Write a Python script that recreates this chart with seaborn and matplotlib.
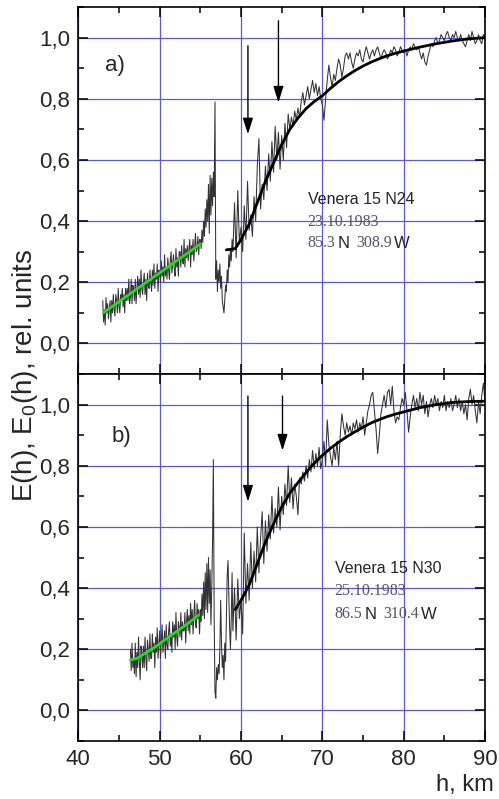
import numpy as np
import pandas as pd
import seaborn as sns
import matplotlib.pyplot as plt
from matplotlib.ticker import MultipleLocator, FuncFormatter

# ---- data ----
# panel a) Venera 15 N24, measured profile in three pieces (start, step, values)
a_lo = [0.14, 0.07, 0.11, 0.06, 0.15, 0.10, 0.13, 0.08, 0.11, 0.14,
        0.07, 0.14, 0.10, 0.16, 0.11, 0.09, 0.16, 0.14, 0.10, 0.18,
        0.12, 0.10, 0.16, 0.14, 0.18, 0.12, 0.16, 0.10, 0.18, 0.14,
        0.18, 0.14, 0.21, 0.13, 0.15, 0.21, 0.13, 0.19, 0.18, 0.14,
        0.21, 0.13, 0.18, 0.22, 0.16, 0.21, 0.15, 0.24, 0.18, 0.16,
        0.20, 0.23, 0.16, 0.21, 0.14, 0.23, 0.19, 0.18, 0.24, 0.20,
        0.17, 0.24, 0.19, 0.26, 0.18, 0.23, 0.21, 0.26, 0.17, 0.24,
        0.23, 0.20, 0.27, 0.22, 0.25, 0.20, 0.29, 0.22, 0.25, 0.21,
        0.28, 0.24, 0.21, 0.27, 0.30, 0.23, 0.26, 0.29, 0.24, 0.22,
        0.31, 0.25, 0.28, 0.22, 0.30, 0.30, 0.25, 0.32, 0.27, 0.26,
        0.34, 0.25, 0.31, 0.28, 0.32, 0.27, 0.31, 0.34, 0.25, 0.32,
        0.29, 0.34, 0.27, 0.32, 0.36, 0.30, 0.31, 0.35, 0.29, 0.34]
a_mid = [0.34, 0.31, 0.37, 0.33, 0.40, 0.35, 0.44, 0.38, 0.47, 0.40,
         0.52, 0.36, 0.55, 0.42, 0.54, 0.45, 0.56, 0.48, 0.79, 0.21,
         0.27, 0.17, 0.24, 0.20, 0.26, 0.18, 0.22, 0.14, 0.12, 0.10,
         0.14, 0.19, 0.17, 0.24, 0.20, 0.29, 0.25, 0.31, 0.27, 0.34]
a_hi = [0.30, 0.46, 0.28, 0.50, 0.33, 0.38, 0.30, 0.45, 0.34, 0.53,
        0.37, 0.42, 0.35, 0.48, 0.40, 0.58, 0.67, 0.44, 0.52, 0.47,
        0.58, 0.50, 0.62, 0.53, 0.66, 0.56, 0.71, 0.60, 0.69, 0.57,
        0.68, 0.60, 0.72, 0.64, 0.75, 0.70, 0.74, 0.71, 0.76, 0.73,
        0.77, 0.74, 0.79, 0.82, 0.78, 0.81, 0.84, 0.80, 0.83, 0.86,
        0.82, 0.85, 0.81, 0.84, 0.80,
        0.78, 0.73, 0.80, 0.86, 0.91, 0.87, 0.84, 0.88, 0.86, 0.90,
        0.93, 0.91, 0.87, 0.90, 0.94, 0.95, 0.93, 0.95, 0.92, 0.90,
        0.93, 0.95, 0.94, 0.96, 0.93, 0.92, 0.95, 0.97, 0.95, 0.93,
        0.95, 0.96, 0.94, 0.96, 0.97, 0.95, 0.93, 0.95, 0.96, 0.95,
        0.93, 0.94, 0.96, 0.95, 0.97, 0.96, 0.94, 0.95, 0.97, 0.96,
        0.95, 0.96, 0.94, 0.96, 0.97, 0.96, 0.98, 0.97, 0.96, 0.97,
        0.95, 0.93, 0.95, 0.92, 0.91, 0.94, 0.96, 0.98, 0.97, 0.99,
        1.00, 0.98, 0.99, 1.01, 1.00, 0.99, 1.01, 1.02, 1.00, 0.99,
        1.01, 1.00, 1.02, 1.00, 0.99, 1.01, 0.99, 0.98, 0.97, 0.99,
        1.01, 0.99, 1.02, 1.00, 0.98, 0.99, 1.01, 0.99, 0.98, 1.01,
        1.00]
a_pieces = [(43.0, 0.1, a_lo), (55.0, 0.1, a_mid), (59.0, 0.2, a_hi)]

# panel b) Venera 15 N30
b_lo = [0.20, 0.13, 0.22, 0.14, 0.17, 0.12,
        0.22, 0.11, 0.19, 0.14, 0.24, 0.16, 0.10, 0.21, 0.19, 0.14,
        0.21, 0.14, 0.24, 0.17, 0.13, 0.23, 0.20, 0.16, 0.25, 0.17,
        0.17, 0.25, 0.19, 0.22, 0.14, 0.24, 0.19, 0.27, 0.17, 0.22,
        0.26, 0.17, 0.23, 0.28, 0.19, 0.22, 0.26, 0.17, 0.28, 0.21,
        0.20, 0.26, 0.29, 0.21, 0.25, 0.19, 0.29, 0.24, 0.28, 0.20,
        0.32, 0.24, 0.21, 0.29, 0.27, 0.24, 0.32, 0.23, 0.29, 0.26,
        0.26, 0.32, 0.22, 0.29, 0.33, 0.26, 0.31, 0.25, 0.35, 0.28,
        0.33, 0.25, 0.31, 0.36, 0.28, 0.27, 0.35, 0.30, 0.33, 0.25]
b_mid = [0.33, 0.29, 0.38, 0.31, 0.42, 0.30, 0.45, 0.33, 0.48, 0.32,
         0.50, 0.35, 0.46, 0.28, 0.40, 0.55, 0.82, 0.30, 0.06, 0.04,
         0.14, 0.10, 0.15, 0.12, 0.20, 0.36, 0.22, 0.14, 0.18, 0.10,
         0.22, 0.16, 0.30, 0.44, 0.49, 0.38, 0.27, 0.20, 0.30, 0.45,
         0.26]
b_hi = [0.40, 0.23, 0.43, 0.30, 0.36, 0.25, 0.58, 0.35, 0.48, 0.36,
        0.55, 0.40, 0.52, 0.42, 0.60, 0.45, 0.56, 0.65, 0.48, 0.62,
        0.52, 0.64, 0.56, 0.70, 0.58, 0.66, 0.60, 0.73, 0.59, 0.70,
        0.64, 0.74, 0.67, 0.80, 0.68, 0.76, 0.66, 0.74, 0.70, 0.64,
        0.76, 0.74, 0.78, 0.75, 0.80, 0.76, 0.82, 0.78, 0.85, 0.79,
        0.84, 0.80, 0.86, 0.79, 0.82, 0.88, 0.80, 0.95, 0.87, 0.83,
        0.80, 0.86, 0.82, 0.88, 0.80, 0.90, 0.97, 0.93, 0.90, 0.94,
        0.91, 0.93, 0.90, 0.94, 0.92, 0.95, 0.91, 0.94, 0.92, 0.96,
        0.90, 0.94, 0.98, 1.00, 1.03, 1.04, 0.98, 0.92, 0.84, 0.90,
        0.97, 1.00, 1.03, 0.99, 1.04, 1.05, 1.00, 1.06, 0.98, 0.94,
        0.96, 0.95, 0.99, 1.02, 1.00, 1.04, 0.98, 0.91, 0.96, 1.00,
        1.03, 0.99, 1.02, 0.98, 1.04, 1.00, 1.03, 0.97, 1.01, 0.96,
        1.00, 1.02, 0.99, 1.03, 1.00, 1.02, 0.98, 1.01, 0.99, 1.03,
        0.98, 1.01, 0.99, 1.02, 0.98, 1.00, 1.03, 0.99, 1.02, 0.98,
        1.01, 0.97, 1.00, 0.95, 1.02, 1.05, 1.00, 1.03, 0.98, 0.94,
        1.01, 0.97, 1.03, 1.07, 1.01]
b_pieces = [(46.4, 0.1, b_lo), (55.0, 0.1, b_mid), (59.2, 0.2, b_hi)]

# model fits (black) and low-altitude fits (green)
fit_a_h = [58.2, 59.3, 60, 61, 62, 63, 64, 65, 66, 67, 68, 69, 70, 71, 72, 73,
           74, 75, 76, 77, 78, 79, 80, 82, 84, 86, 88, 90]
fit_a_v = [0.306, 0.31, 0.34, 0.39, 0.46, 0.53, 0.59, 0.65, 0.70, 0.737, 0.768,
           0.791, 0.81, 0.834, 0.856, 0.875, 0.892, 0.907, 0.92, 0.931, 0.941,
           0.949, 0.956, 0.969, 0.98, 0.989, 0.996, 1.0]
fit_b_h = [59.3, 60, 61, 62, 63, 64, 65, 66, 67, 68, 69, 70, 71, 72, 73, 74,
           75, 76, 77, 78, 79, 80, 82, 84, 86, 88, 90]
fit_b_v = [0.33, 0.36, 0.41, 0.48, 0.55, 0.61, 0.665, 0.71, 0.745, 0.778, 0.808,
           0.834, 0.857, 0.877, 0.895, 0.911, 0.926, 0.94, 0.951, 0.961, 0.969,
           0.976, 0.99, 1.0, 1.007, 1.01, 1.011]
green_a_h = [43.1, 55.0]
green_a_v = [0.101, 0.325]
green_b_h = [46.4, 47.2, 48.4, 49.6, 50.9, 52.2, 53.5, 54.8]
green_b_v = [0.165, 0.170, 0.19, 0.21, 0.236, 0.26, 0.285, 0.312]

# arrows: (h, from, to)
arrows_a = [(60.85, 0.973, 0.684), (64.6, 1.055, 0.788)]
arrows_b = [(60.85, 1.028, 0.683), (65.1, 1.028, 0.85)]

labels = ['a)', 'b)']
titles = ['Venera 15 N24', 'Venera 15 N30']
dates = ['23.10.1983', '25.10.1983']
lats = ['85.3', '86.5']
lons = ['308.9', '310.4']

GRID = '#5a5ae0'
SERIF_GREY = '#555566'


def to_frame(pieces):
    frames = []
    for start, step, vals in pieces:
        h = start + step * np.arange(len(vals))
        frames.append(pd.DataFrame({'h': h, 'E': vals}))
    return pd.concat(frames, ignore_index=True)


def style_axes(ax, show_xlabels):
    ax.set_xlim(40, 90)
    ax.set_ylim(-0.1, 1.1)
    ax.xaxis.set_major_locator(MultipleLocator(10))
    ax.xaxis.set_minor_locator(MultipleLocator(5))
    ax.yaxis.set_major_locator(MultipleLocator(0.2))
    ax.yaxis.set_minor_locator(MultipleLocator(0.1))
    ax.yaxis.set_major_formatter(FuncFormatter(lambda v, _: f'{v:.1f}'.replace('.', ',').replace('-0,0', '0,0')))
    ax.grid(True, which='major', color=GRID, lw=0.9)
    ax.set_axisbelow(True)
    ax.tick_params(which='both', direction='in', top=True, right=True, width=1.1, color='black')
    ax.tick_params(which='major', length=7, labelsize=16, pad=6)
    ax.tick_params(which='minor', length=4)
    ax.tick_params(axis='x', labelbottom=show_xlabels)
    for s in ax.spines.values():
        s.set_color('black')
        s.set_linewidth(1.2)
    ax.set_xlabel('')
    ax.set_ylabel('')


sns.set_theme(style='ticks')
plt.rcParams['font.family'] = ['Liberation Sans', 'DejaVu Sans']
plt.rcParams['mathtext.fontset'] = 'custom'
plt.rcParams['mathtext.rm'] = 'Liberation Sans'
plt.rcParams['mathtext.it'] = 'Liberation Sans:italic'

fig = plt.figure(figsize=(4.99, 7.99), dpi=100)
ax_a = fig.add_axes([0.157, 0.5319, 0.815, 0.4593])
ax_b = fig.add_axes([0.157, 0.0726, 0.815, 0.4593])

panels = [
    (ax_a, a_pieces, fit_a_h, fit_a_v, green_a_h, green_a_v, arrows_a,
     (43.3, 0.89), (68.2, 0.455, 0.384, 0.315)),
    (ax_b, b_pieces, fit_b_h, fit_b_v, green_b_h, green_b_v, arrows_b,
     (44.1, 0.877), (71.5, 0.449, 0.378, 0.303)),
]

for i, (ax, pieces, fh, fv, gh, gv, arrs, lab_pos, txt_pos) in enumerate(panels):
    df = to_frame(pieces)
    sns.lineplot(data=df, x='h', y='E', ax=ax, sort=False, estimator=None,
                 color='#333333', linewidth=0.75)
    sns.lineplot(x=fh, y=fv, ax=ax, sort=False, estimator=None, color='black', linewidth=2.0)
    sns.lineplot(x=gh, y=gv, ax=ax, sort=False, estimator=None, color='#22dd22', linewidth=2.0)
    for h, y0, y1 in arrs:
        ax.annotate('', xy=(h, y1), xytext=(h, y0),
                    arrowprops=dict(arrowstyle='-|>,head_length=0.7,head_width=0.22',
                                    color='black', lw=1.0, mutation_scale=14,
                                    shrinkA=0, shrinkB=0))
    style_axes(ax, show_xlabels=(i == 1))

    ax.text(lab_pos[0], lab_pos[1], labels[i], fontsize=16, va='baseline', ha='left')

    tx, y1, y2, y3 = txt_pos
    ax.text(tx, y1, titles[i], fontsize=11.5, va='baseline', ha='left')
    ax.text(tx, y2, dates[i], fontsize=11.5, family='Liberation Serif',
            color=SERIF_GREY, va='baseline', ha='left')
    t1 = ax.text(tx, y3, lats[i], fontsize=11.5, family='Liberation Serif',
                 color=SERIF_GREY, va='baseline', ha='left')
    t2 = ax.annotate('N', xy=(1, 0), xycoords=t1, xytext=(1.5, 0), textcoords='offset points',
                     fontsize=12, va='bottom', ha='left')
    t3 = ax.annotate(lons[i], xy=(1, 0), xycoords=t2, xytext=(5, 0), textcoords='offset points',
                     fontsize=11.5, family='Liberation Serif', color=SERIF_GREY, va='bottom', ha='left')
    ax.annotate('W', xy=(1, 0), xycoords=t3, xytext=(1.5, 0), textcoords='offset points',
                fontsize=12, va='bottom', ha='left')

fig.text(0.05, 0.53, 'E(h), E$_\\mathrm{0}$(h), rel. units', rotation=90,
         fontsize=20, ha='center', va='center')
fig.text(0.99, 0.018, 'h, km', fontsize=17, ha='right', va='center')

fig.savefig('out.png', dpi=100)
